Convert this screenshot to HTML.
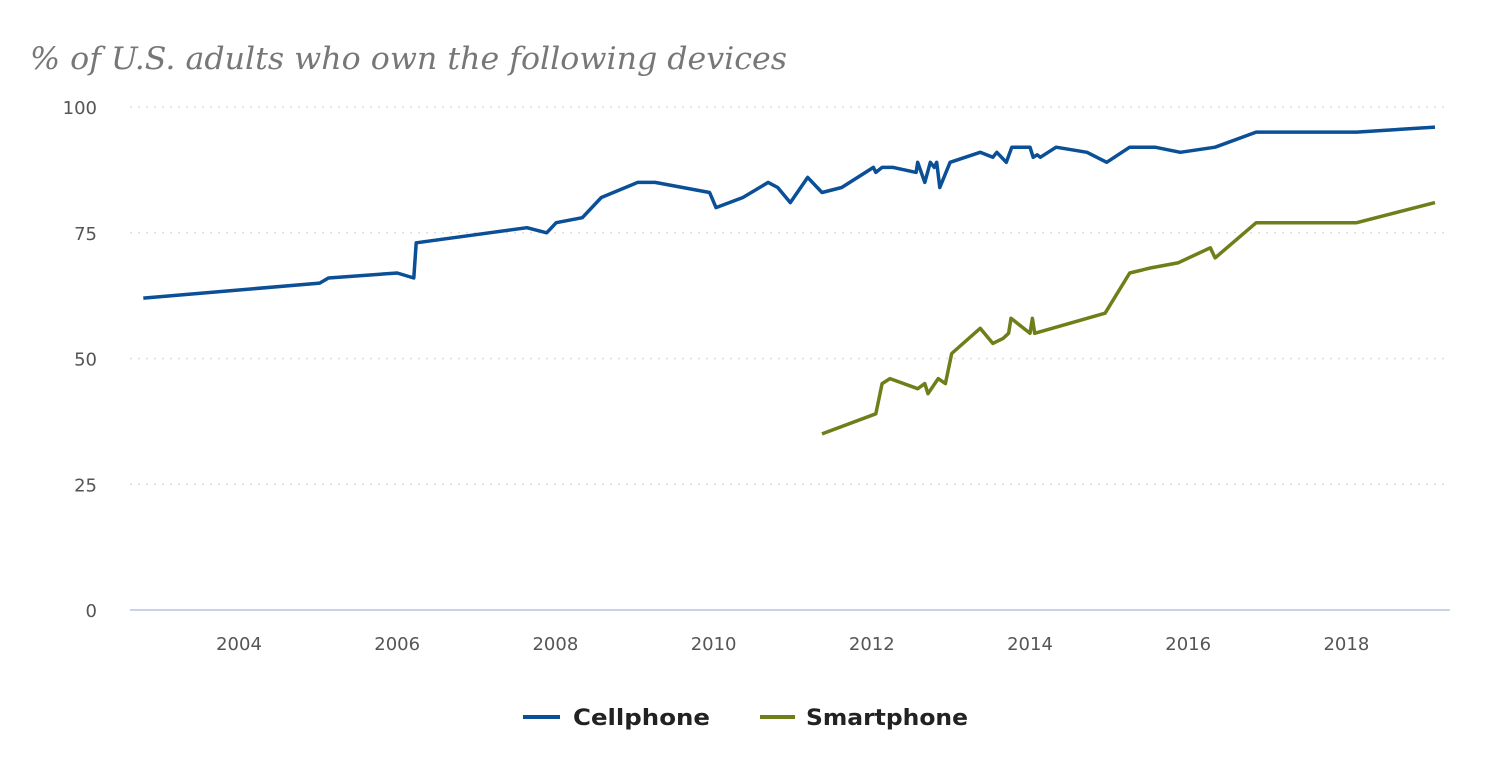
<!DOCTYPE html>
<html><head><meta charset="utf-8"><style>
body{margin:0;background:#fff;width:1500px;height:778px;overflow:hidden}
svg{display:block}
</style></head><body>
<svg width="1500" height="778">
<text x="30" y="69" textLength="757" lengthAdjust="spacingAndGlyphs" font-family="DejaVu Serif, Liberation Serif, serif" font-style="italic" font-size="31" fill="#777">% of U.S. adults who own the following devices</text>
<g id="grid"></g><g id="axes"></g><g id="series"></g>
<g>
<g><line x1="523" y1="717" x2="560" y2="717" stroke="#0b4f96" stroke-width="4"/><text x="573" y="725" textLength="137" lengthAdjust="spacingAndGlyphs" font-family="DejaVu Sans, sans-serif" font-weight="bold" font-size="22" fill="#222">Cellphone</text></g>
<g><line x1="760" y1="717" x2="795" y2="717" stroke="#6e7f1a" stroke-width="4"/><text x="806" y="725" textLength="162" lengthAdjust="spacingAndGlyphs" font-family="DejaVu Sans, sans-serif" font-weight="bold" font-size="22" fill="#222">Smartphone</text></g>
</g>
</svg>
<script>
const yTicks=[0,25,50,75,100];
const xTicks=[2004,2006,2008,2010,2012,2014,2016,2018];
const cellYears=[2002.79,2005.02,2005.13,2006.0,2006.21,2006.24,2007.64,2007.89,2008.01,2008.34,2008.58,2009.04,2009.26,2009.95,2010.03,2010.37,2010.69,2010.81,2010.97,2011.19,2011.37,2011.62,2012.02,2012.05,2012.13,2012.27,2012.56,2012.58,2012.67,2012.74,2012.79,2012.82,2012.86,2012.99,2013.37,2013.53,2013.58,2013.70,2013.77,2014.0,2014.04,2014.09,2014.13,2014.33,2014.72,2014.97,2015.26,2015.58,2015.90,2016.34,2016.86,2018.13,2019.12];
const cellValues=[62,65,66,67,66,73,76,75,77,78,82,85,85,83,80,82,85,84,81,86,83,84,88,87,88,88,87,89,85,89,88,89,84,89,91,90,91,89,92,92,90,90.5,90,92,91,89,92,92,91,92,95,95,96];
const smartYears=[2011.37,2012.05,2012.13,2012.23,2012.58,2012.67,2012.71,2012.84,2012.93,2013.01,2013.37,2013.53,2013.66,2013.73,2013.76,2014.0,2014.03,2014.06,2014.95,2015.26,2015.52,2015.87,2016.28,2016.34,2016.86,2018.13,2019.12];
const smartValues=[35,39,45,46,44,45,43,46,45,51,56,53,54,55,58,55,58,55,59,67,68,69,72,70,77,77,81];
const NS="http://www.w3.org/2000/svg";
function X(yr){return 239+(yr-2004)*79.1;}
function Y(v){return 610-v*5.03;}
function mk(t,a,p){const e=document.createElementNS(NS,t);for(const k in a)e.setAttribute(k,a[k]);p.appendChild(e);return e;}
const grid=document.getElementById('grid'),axes=document.getElementById('axes'),ser=document.getElementById('series');
yTicks.forEach(v=>{
 if(v>0){const g=mk('line',{x1:130,x2:1450,y1:Y(v),y2:Y(v),stroke:'#ddd','stroke-width':1.5,'stroke-dasharray':'2,6'},grid);
 
 }
 const t=mk('text',{x:97,y:Y(v)+7,'text-anchor':'end','font-family':'DejaVu Sans, sans-serif','font-size':18,fill:'#555'},axes);
 t.textContent=v;
 
 
});
const base=mk('line',{x1:130,x2:1450,y1:610,y2:610,stroke:'#c8d3ea','stroke-width':2},axes);


xTicks.forEach(yr=>{
 const t=mk('text',{x:X(yr),y:650,'text-anchor':'middle','font-family':'DejaVu Sans, sans-serif','font-size':18,fill:'#555'},axes);
 t.textContent=yr;
 
 
});
function line(xs,vs,color,name){
 const d=xs.map((x,i)=>(i?'L':'M')+X(x).toFixed(1)+','+Y(vs[i]).toFixed(1)).join(' ');
 const p=mk('path',{d:d,fill:'none',stroke:color,'stroke-width':3.5,'stroke-linejoin':'round'},ser);
 
 
}
line(cellYears,cellValues,'#0b4f96','cellphone-line');
line(smartYears,smartValues,'#6e7f1a','smartphone-line');
</script>
</body></html>
